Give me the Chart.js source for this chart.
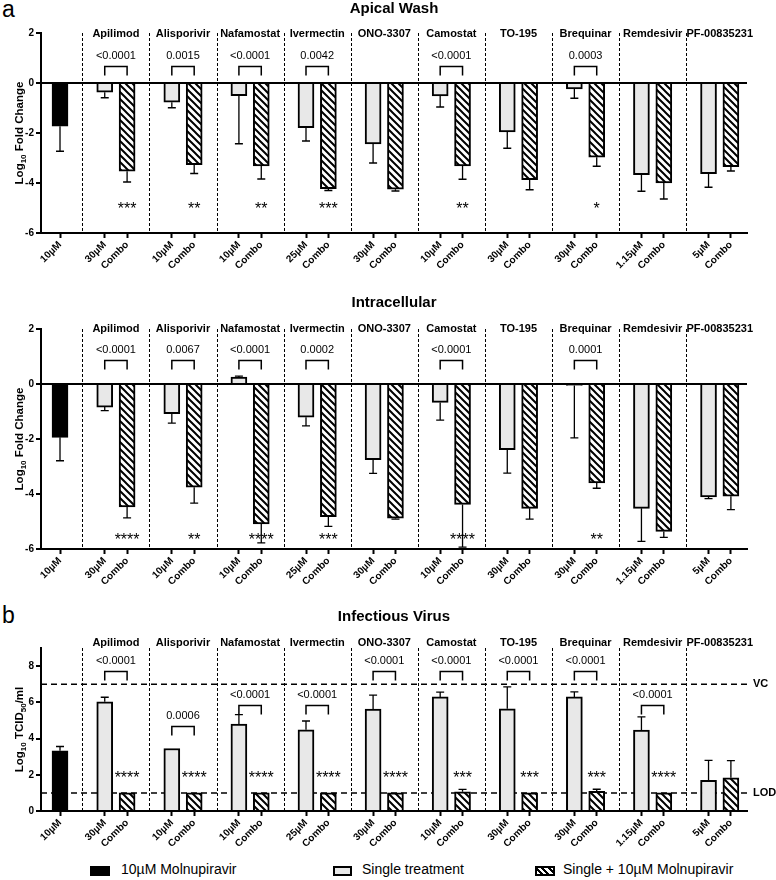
<!DOCTYPE html>
<html>
<head>
<meta charset="utf-8">
<script src="https://cdn.jsdelivr.net/npm/chart.js@4.4.1/dist/chart.umd.min.js"></script>
<style>
  html,body{margin:0;padding:0;background:#fff;}
  #page{position:relative;width:776px;height:880px;font-family:'Liberation Sans',Arial,sans-serif;color:#000;}
  .wrap{position:absolute;left:0;width:776px;}
  .tag{position:absolute;left:2px;font-size:23px;line-height:23px;}
  .leg{position:absolute;top:861px;font-size:14px;line-height:16px;}
  .sw{position:absolute;top:866px;height:10px;box-sizing:border-box;}
</style>
</head>
<body>
<div id="page">
  <div class="tag" style="top:-2px">a</div>
  <div class="tag" style="top:604px">b</div>
  <div class="wrap" style="top:0;height:283px"><canvas id="chartApical"></canvas></div>
  <div class="wrap" style="top:294px;height:305px"><canvas id="chartIntra"></canvas></div>
  <div class="wrap" style="top:608px;height:253px"><canvas id="chartVirus"></canvas></div>

  <div class="sw" style="left:90px;width:20px;background:#000"></div>
  <div class="leg" style="left:121px">10µM Molnupiravir</div>
  <div class="sw" style="left:333px;width:19px;background:#e8e8e8;border:2px solid #000"></div>
  <div class="leg" style="left:362px">Single treatment</div>
  <div class="sw" style="left:535px;width:20px;border:2px solid #000;background:repeating-linear-gradient(45deg,#fff 0 2.5px,#000 2.5px 4.5px)"></div>
  <div class="leg" style="left:563px">Single + 10µM Molnupiravir</div>
</div>
<script>
const FONT = "'Liberation Sans', Arial, sans-serif";
const COLORS = { ink:"#000", single:"#e8e8e8" };

const DRUGS = ["Apilimod","Alisporivir","Nafamostat","Ivermectin","ONO-3307","Camostat","TO-195","Brequinar","Remdesivir","PF-00835231"];
const DOSES = ["30µM","10µM","10µM","25µM","30µM","10µM","30µM","30µM","1.15µM","5µM"];
const MOLNU_DOSE = "10µM";

// Apical wash, log10 fold change
const apicalMolnu = -1.73, apicalMolnuErr = 1.0;
const apicalSingle    = [-0.37,-0.77,-0.51,-1.79,-2.44,-0.52,-1.96,-0.24,-3.67,-3.63];
const apicalSingleErr = [0.22,0.22,1.92,0.53,0.76,0.44,0.65,0.37,0.66,0.54];
const apicalCombo     = [-3.53,-3.27,-3.32,-4.23,-4.25,-3.32,-3.87,-2.97,-4.00,-3.35];
const apicalComboErr  = [0.43,0.35,0.52,0.07,0.07,0.53,0.40,0.36,0.64,0.17];
const apicalP         = ["<0.0001","0.0015","<0.0001","0.0042",null,"<0.0001",null,"0.0003",null,null];
const apicalStars     = ["***","**","**","***","","**","","*","",""];

// Intracellular, log10 fold change
const intraMolnu = -1.94, intraMolnuErr = 0.85;
const intraSingle    = [-0.84,-1.08,0.25,-1.21,-2.75,-0.67,-2.39,-0.05,-4.52,-4.11];
const intraSingleErr = [0.13,0.34,0.04,0.31,0.50,0.64,0.85,1.91,1.20,0.06];
const intraCombo     = [-4.47,-3.75,-5.09,-4.82,-4.88,-4.38,-4.52,-3.60,-5.36,-4.08];
const intraComboErr  = [0.40,0.58,0.69,0.36,0.03,1.55,0.39,0.19,0.22,0.49];
const intraP         = ["<0.0001","0.0067","<0.0001","0.0002",null,"<0.0001",null,"0.0001",null,null];
const intraStars     = ["****","**","****","***","","****","","**","",""];

// Infectious virus, log10 TCID50/ml
const virusMolnu = 3.32, virusMolnuErr = 0.24;
const virusSingle    = [6.03,3.45,4.80,4.48,5.63,6.30,5.64,6.30,4.47,1.70];
const virusSingleErr = [0.25,0,0.52,0.49,0.77,0.26,1.21,0.28,0.73,1.09];
const virusCombo     = [1,1,1,1,1,1.06,1,1.08,1,1.83];
const virusComboErr  = [0,0,0,0,0,0.13,0,0.12,0,0.95];
const virusP         = ["<0.0001","0.0006","<0.0001","<0.0001","<0.0001","<0.0001","<0.0001","<0.0001","<0.0001",null];
const virusBracket   = [7.72,4.71,5.85,5.85,7.72,7.72,7.72,7.72,5.85,null];
const virusStars     = ["****","****","****","****","****","***","***","***","****",""];
const VC_LEVEL = 7, LOD_LEVEL = 1;

// slot layout: molnupiravir at 0, then a separator slot and a pair per drug
const singleSlot = i => 2 + 3*i;
const comboSlot  = i => 3 + 3*i;
const sepSlot    = i => 1 + 3*i;
const X_LABELS = { 0: MOLNU_DOSE };
DRUGS.forEach((d,i) => { X_LABELS[singleSlot(i)] = DOSES[i]; X_LABELS[comboSlot(i)] = "Combo"; });
const X_TICKS = Object.keys(X_LABELS).map(Number);

function makeHatch(){
  const c = document.createElement("canvas"); c.width = c.height = 7;
  const g = c.getContext("2d");
  g.fillStyle = "#fff"; g.fillRect(0,0,7,7);
  g.strokeStyle = "#000"; g.lineWidth = 2;
  g.beginPath();
  g.moveTo(-1,-1); g.lineTo(8,8);
  g.moveTo(-1,6); g.lineTo(1,8);
  g.moveTo(6,-1); g.lineTo(8,1);
  g.stroke();
  return g.createPattern(c,"repeat");
}
const HATCH = makeHatch();

function drawYTitle(ctx, parts, x, yMid){
  const big = "bold 11.5px " + FONT, small = "bold 8px " + FONT;
  let total = 0;
  parts.forEach(p => { ctx.font = p[1] ? small : big; total += ctx.measureText(p[0]).width; });
  ctx.save();
  ctx.translate(x, yMid); ctx.rotate(-Math.PI/2);
  ctx.fillStyle = COLORS.ink; ctx.textBaseline = "middle"; ctx.textAlign = "left";
  let cx = -total/2;
  parts.forEach(p => {
    ctx.font = p[1] ? small : big;
    ctx.fillText(p[0], cx, p[1] ? 3.5 : 0);
    cx += ctx.measureText(p[0]).width;
  });
  ctx.restore();
}

function annotPlugin(p){
  return {
    id: "annot",
    beforeDatasetsDraw(chart){
      const { ctx, chartArea: a, scales: { x, y } } = chart;
      ctx.save();
      ctx.strokeStyle = COLORS.ink; ctx.lineWidth = 1; ctx.setLineDash([3,2]);
      DRUGS.forEach((d,i) => {
        const px = Math.round(x.getPixelForValue(sepSlot(i))) + 0.5;
        ctx.beginPath(); ctx.moveTo(px, a.top); ctx.lineTo(px, a.bottom); ctx.stroke();
      });
      if (p.refLines){
        ctx.setLineDash([6,4]); ctx.lineWidth = 1.5;
        p.refLines.forEach(r => {
          const py = y.getPixelForValue(r.value);
          ctx.beginPath(); ctx.moveTo(a.left, py); ctx.lineTo(a.right, py); ctx.stroke();
        });
      }
      ctx.restore();
    },
    afterDatasetsDraw(chart){
      const { ctx, chartArea: a, scales: { x, y } } = chart;
      ctx.save();
      // error bars
      ctx.strokeStyle = COLORS.ink; ctx.lineWidth = 1.3;
      const errBar = (slot, v, e) => {
        if (!e) return;
        const px = x.getPixelForValue(slot);
        const end = v < 0 ? v - e : v + e;
        const y0 = y.getPixelForValue(v), y1 = y.getPixelForValue(end);
        ctx.beginPath(); ctx.moveTo(px, y0); ctx.lineTo(px, y1);
        ctx.moveTo(px-4, y1); ctx.lineTo(px+4, y1); ctx.stroke();
      };
      errBar(0, p.molnu, p.molnuErr);
      p.single.forEach((v,i) => errBar(singleSlot(i), v, p.singleErr[i]));
      p.combo.forEach((v,i) => errBar(comboSlot(i), v, p.comboErr[i]));

      // brackets with p values
      ctx.fillStyle = COLORS.ink; ctx.textAlign = "center"; ctx.textBaseline = "middle";
      p.pvals.forEach((t,i) => {
        if (!t) return;
        const lvl = Array.isArray(p.bracketY) ? p.bracketY[i] : p.bracketY;
        const x1 = x.getPixelForValue(singleSlot(i)), x2 = x.getPixelForValue(comboSlot(i));
        const by = Math.round(y.getPixelForValue(lvl)) + 0.5;
        ctx.lineWidth = 1.5;
        ctx.beginPath(); ctx.moveTo(x1, by + 9); ctx.lineTo(x1, by); ctx.lineTo(x2, by); ctx.lineTo(x2, by + 9); ctx.stroke();
        ctx.font = "11px " + FONT;
        ctx.fillText(t, (x1 + x2)/2, by - 11);
      });

      // significance stars
      ctx.font = "16px " + FONT;
      p.stars.forEach((s,i) => {
        if (!s) return;
        ctx.fillText(s, x.getPixelForValue(comboSlot(i)), y.getPixelForValue(p.starY) + 4);
      });

      // drug names
      ctx.font = "bold 11px " + FONT;
      DRUGS.forEach((d,i) => ctx.fillText(d, x.getPixelForValue(singleSlot(i) + 0.5), a.top + p.nameDy));

      // reference line labels
      if (p.refLines){
        ctx.font = "bold 11px " + FONT; ctx.textAlign = "left";
        p.refLines.forEach(r => ctx.fillText(r.label, a.right + 6, y.getPixelForValue(r.value)));
      }
      ctx.restore();
      drawYTitle(ctx, p.yTitle, 20, (a.top + a.bottom)/2);
    }
  };
}

function makeChart(id, p){
  const tickFont = { family: FONT, size: 10, weight: "bold" };
  const barBase = { borderColor: COLORS.ink, borderWidth: 2, barThickness: 16 };
  new Chart(document.getElementById(id), {
    type: "bar",
    data: { datasets: [
      { ...barBase, label: "10µM Molnupiravir", data: [{ x: 0, y: p.molnu }], backgroundColor: COLORS.ink },
      { ...barBase, label: "Single treatment", data: p.single.map((v,i) => ({ x: singleSlot(i), y: v })), backgroundColor: COLORS.single },
      { ...barBase, label: "Single + 10µM Molnupiravir", data: p.combo.map((v,i) => ({ x: comboSlot(i), y: v })), backgroundColor: HATCH }
    ]},
    options: {
      responsive: true, maintainAspectRatio: false, animation: false,
      grouped: false,
      layout: { padding: { left: 0, right: 29, top: 0, bottom: 0 } },
      plugins: {
        legend: { display: false }, tooltip: { enabled: false },
        title: { display: true, text: p.title, fullSize: false, color: COLORS.ink,
                 font: { family: FONT, size: 15, weight: "bold" }, padding: { top: 0, bottom: p.titlePad } }
      },
      scales: {
        x: {
          type: "linear", min: -0.85, max: 30.72, offset: false,
          afterBuildTicks: s => { s.ticks = X_TICKS.map(v => ({ value: v })); },
          afterFit: s => { s.height = 50; },
          ticks: { autoSkip: false, minRotation: 45, maxRotation: 45, padding: 1, color: COLORS.ink, font: tickFont,
                   callback: v => X_LABELS[v] ?? "" },
          grid: { drawOnChartArea: false, offset: false, tickLength: 5, tickColor: COLORS.ink, tickWidth: 2 },
          border: { color: COLORS.ink, width: 2 }
        },
        y: {
          min: p.yMin, max: p.yMax,
          afterFit: s => { s.width = 41; },
          ticks: { stepSize: 2, includeBounds: false, padding: 2, color: COLORS.ink, font: tickFont },
          grid: { drawOnChartArea: p.zeroLine, color: c => (c.tick && c.tick.value === 0) ? COLORS.ink : "rgba(0,0,0,0)",
                  lineWidth: 2, tickLength: 5, tickColor: COLORS.ink, tickWidth: 2 },
          border: { color: COLORS.ink, width: 2 }
        }
      }
    },
    plugins: [annotPlugin(p)]
  });
}

makeChart("chartApical", {
  title: "Apical Wash", titlePad: 15, yMin: -6, yMax: 2, zeroLine: true, nameDy: 1,
  molnu: apicalMolnu, molnuErr: apicalMolnuErr,
  single: apicalSingle, singleErr: apicalSingleErr, combo: apicalCombo, comboErr: apicalComboErr,
  pvals: apicalP, bracketY: 0.67, stars: apicalStars, starY: -4.9,
  yTitle: [["Log",false],["10",true],[" Fold Change",false]]
});
makeChart("chartIntra", {
  title: "Intracellular", titlePad: 17, yMin: -6, yMax: 2, zeroLine: true, nameDy: 0,
  molnu: intraMolnu, molnuErr: intraMolnuErr,
  single: intraSingle, singleErr: intraSingleErr, combo: intraCombo, comboErr: intraComboErr,
  pvals: intraP, bracketY: 0.88, stars: intraStars, starY: -5.55,
  yTitle: [["Log",false],["10",true],[" Fold Change",false]]
});
makeChart("chartVirus", {
  title: "Infectious Virus", titlePad: 22, yMin: 0, yMax: 9, zeroLine: false, nameDy: -5,
  molnu: virusMolnu, molnuErr: virusMolnuErr,
  single: virusSingle, singleErr: virusSingleErr, combo: virusCombo, comboErr: virusComboErr,
  pvals: virusP, bracketY: virusBracket, stars: virusStars, starY: 2.0,
  refLines: [{ value: VC_LEVEL, label: "VC" }, { value: LOD_LEVEL, label: "LOD" }],
  yTitle: [["Log",false],["10",true],[" TCID",false],["50",true],["/ml",false]]
});
</script>
</body>
</html>
